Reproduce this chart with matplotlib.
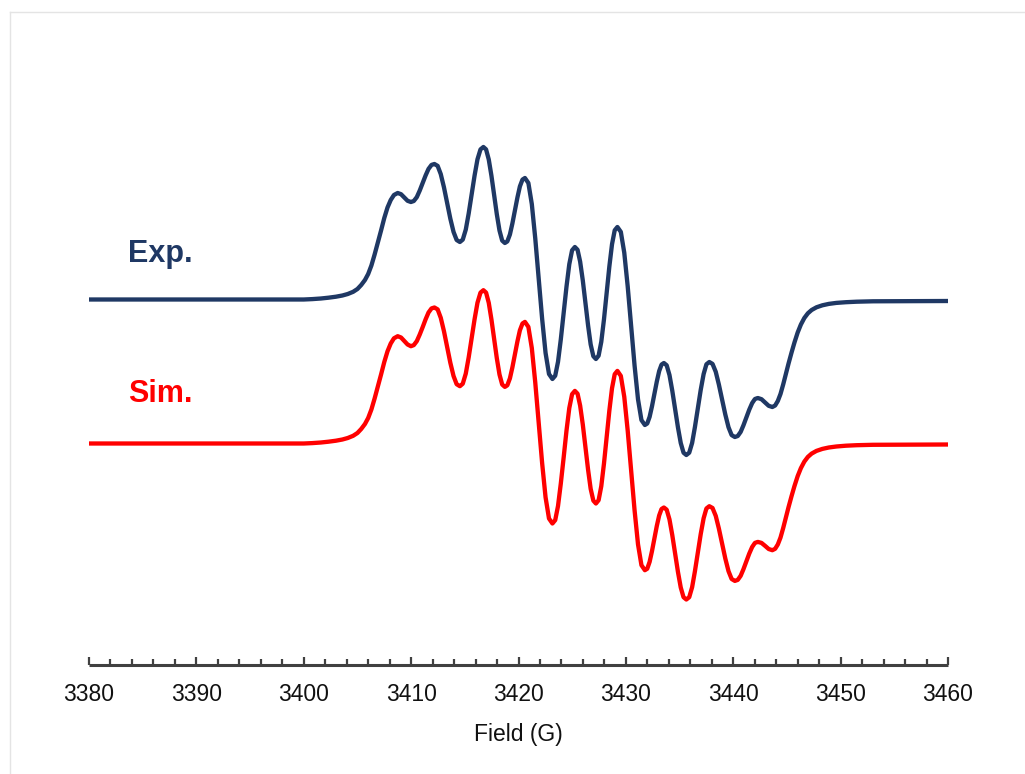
import matplotlib
matplotlib.use("Agg")
import matplotlib.pyplot as plt
from matplotlib.ticker import MultipleLocator
from matplotlib.lines import Line2D

plt.rcParams['font.family'] = ['Liberation Sans', 'DejaVu Sans']

# magnetic field (G)
field = [
    3380.0, 3390.0, 3400.0, 3400.8, 3401.6, 3402.3, 3403.0, 3403.6, 3404.1, 3404.6,
    3405.0, 3405.35, 3405.7, 3406.0, 3406.3, 3406.6, 3406.9, 3407.2, 3407.5, 3407.8,
    3408.1, 3408.4, 3408.75,
    3409.06, 3409.37, 3409.67, 3409.98,
    3410.25, 3410.53, 3410.80, 3411.08, 3411.35, 3411.62, 3411.90, 3412.17,
    3412.47, 3412.76, 3413.06, 3413.36, 3413.65, 3413.95, 3414.24, 3414.54,
    3414.81, 3415.09, 3415.36, 3415.64, 3415.91, 3416.18, 3416.46, 3416.73,
    3416.98, 3417.23, 3417.48, 3417.73, 3417.98, 3418.23, 3418.48, 3418.73,
    3418.96, 3419.20, 3419.43, 3419.67, 3419.90, 3420.13, 3420.37, 3420.60,
    3420.92, 3421.24, 3421.56, 3421.88, 3422.20, 3422.52, 3422.84, 3423.16,
    3423.42, 3423.68, 3423.94, 3424.21, 3424.47, 3424.73, 3424.99, 3425.25,
    3425.50, 3425.74, 3425.99, 3426.23, 3426.48, 3426.72, 3426.97, 3427.21,
    3427.46, 3427.71, 3427.96, 3428.21, 3428.46, 3428.71, 3428.96, 3429.21,
    3429.53, 3429.85, 3430.17, 3430.49, 3430.81, 3431.13, 3431.45, 3431.77,
    3431.99, 3432.21, 3432.43, 3432.66, 3432.88, 3433.10, 3433.32, 3433.54,
    3433.80, 3434.06, 3434.32, 3434.59, 3434.85, 3435.11, 3435.37, 3435.63,
    3435.90, 3436.17, 3436.43, 3436.70, 3436.97, 3437.24, 3437.50, 3437.77,
    3438.07, 3438.37, 3438.66, 3438.96, 3439.26, 3439.56, 3439.85, 3440.15,
    3440.42, 3440.69, 3440.95, 3441.22, 3441.49, 3441.76, 3442.02, 3442.29,
    3442.63, 3442.97, 3443.30, 3443.64,
    3443.90, 3444.15, 3444.40, 3444.65, 3444.90, 3445.15, 3445.43, 3445.70,
    3446.00, 3446.30, 3446.62, 3446.95, 3447.30, 3447.75, 3448.30, 3448.90,
    3449.60, 3450.50, 3451.50, 3453.00, 3460.00,
]

# first-derivative EPR signal, experimental (a.u.)
exp_signal = [
    0.000, 0.000, 0.000, 0.004, 0.010, 0.018, 0.028, 0.040, 0.055, 0.077,
    0.105, 0.145, 0.195, 0.255, 0.340, 0.450, 0.570, 0.690, 0.815, 0.920,
    0.995, 1.045, 1.065,
    1.053, 1.020, 0.987, 0.975,
    0.985, 1.024, 1.089, 1.165, 1.241, 1.306, 1.346, 1.355,
    1.336, 1.254, 1.121, 0.965, 0.809, 0.676, 0.595, 0.575,
    0.599, 0.699, 0.860, 1.050, 1.240, 1.402, 1.501, 1.525,
    1.501, 1.400, 1.237, 1.045, 0.853, 0.690, 0.589, 0.565,
    0.581, 0.650, 0.760, 0.890, 1.020, 1.131, 1.199, 1.215,
    1.165, 0.954, 0.612, 0.210, -0.192, -0.534, -0.745, -0.795,
    -0.762, -0.623, -0.399, -0.135, 0.129, 0.353, 0.492, 0.525,
    0.497, 0.379, 0.189, -0.035, -0.259, -0.449, -0.567, -0.595,
    -0.562, -0.423, -0.199, 0.065, 0.329, 0.553, 0.692, 0.725,
    0.676, 0.468, 0.131, -0.265, -0.661, -0.998, -1.206, -1.255,
    -1.240, -1.174, -1.069, -0.945, -0.821, -0.716, -0.651, -0.635,
    -0.658, -0.755, -0.911, -1.095, -1.279, -1.435, -1.532, -1.555,
    -1.532, -1.434, -1.276, -1.090, -0.904, -0.746, -0.648, -0.625,
    -0.644, -0.723, -0.850, -1.000, -1.150, -1.278, -1.356, -1.375,
    -1.365, -1.324, -1.258, -1.180, -1.102, -1.036, -0.995, -0.985,
    -0.997, -1.030, -1.063, -1.075,
    -1.060, -1.015, -0.945, -0.850, -0.745, -0.640, -0.530, -0.430,
    -0.330, -0.250, -0.185, -0.138, -0.105, -0.078, -0.058, -0.044,
    -0.034, -0.027, -0.022, -0.018, -0.015,
]

# simulated spectrum (a.u.)
sim_signal = [
    0.000, 0.000, 0.000, 0.004, 0.010, 0.018, 0.028, 0.040, 0.055, 0.077,
    0.105, 0.145, 0.195, 0.255, 0.340, 0.450, 0.570, 0.690, 0.815, 0.922,
    1.000, 1.052, 1.073,
    1.060, 1.025, 0.990, 0.973,
    0.984, 1.024, 1.089, 1.165, 1.242, 1.310, 1.351, 1.360,
    1.341, 1.257, 1.122, 0.965, 0.808, 0.675, 0.593, 0.573,
    0.598, 0.699, 0.861, 1.052, 1.243, 1.408, 1.509, 1.533,
    1.509, 1.407, 1.240, 1.046, 0.853, 0.690, 0.590, 0.566,
    0.582, 0.651, 0.761, 0.891, 1.021, 1.132, 1.200, 1.216,
    1.166, 0.954, 0.611, 0.208, -0.195, -0.538, -0.750, -0.800,
    -0.766, -0.625, -0.400, -0.136, 0.129, 0.354, 0.493, 0.526,
    0.498, 0.379, 0.188, -0.037, -0.262, -0.453, -0.571, -0.600,
    -0.567, -0.427, -0.201, 0.063, 0.328, 0.553, 0.693, 0.726,
    0.676, 0.467, 0.128, -0.270, -0.668, -1.008, -1.217, -1.267,
    -1.252, -1.184, -1.077, -0.951, -0.825, -0.720, -0.655, -0.640,
    -0.662, -0.759, -0.915, -1.100, -1.284, -1.440, -1.537, -1.560,
    -1.537, -1.437, -1.278, -1.092, -0.906, -0.748, -0.650, -0.627,
    -0.645, -0.724, -0.850, -1.000, -1.150, -1.277, -1.355, -1.374,
    -1.364, -1.323, -1.257, -1.179, -1.101, -1.035, -0.994, -0.984,
    -0.994, -1.024, -1.055, -1.067,
    -1.053, -1.010, -0.941, -0.846, -0.741, -0.636, -0.526, -0.426,
    -0.326, -0.246, -0.181, -0.134, -0.101, -0.074, -0.054, -0.040,
    -0.030, -0.022, -0.017, -0.013, -0.010,
]

assert len(field) == len(exp_signal) == len(sim_signal)

exp_color = '#1F3864'
sim_color = '#FF0000'
sim_offset = -1.44

fig = plt.figure(figsize=(10.25, 7.74), dpi=100)

# faint frame lines along the top and left edge
fig.add_artist(Line2D([10 / 1025, 1.0], [1 - 12 / 774, 1 - 12 / 774], transform=fig.transFigure,
                      color='#e4e4e4', lw=1))
fig.add_artist(Line2D([10 / 1025, 10 / 1025], [0.0, 1 - 12 / 774], transform=fig.transFigure,
                      color='#e4e4e4', lw=1))

ax = fig.add_axes([89 / 1025, 109 / 774, 859 / 1025, 565 / 774])

ax.plot(field, exp_signal, color=exp_color, lw=3.1, solid_joinstyle='round',
        solid_capstyle='round')
ax.plot(field, [v + sim_offset for v in sim_signal], color=sim_color, lw=3.1,
        solid_joinstyle='round', solid_capstyle='round')

ax.text(3383.6, 0.378, 'Exp.', color=exp_color, fontsize=22, fontweight='bold',
        ha='left', va='baseline')
ax.text(3383.6, -1.022, 'Sim.', color=sim_color, fontsize=22, fontweight='bold',
        ha='left', va='baseline')

ax.set_xlim(3380, 3460)
ax.set_ylim(-3.655, 1.995)

for side in ['left', 'right', 'top']:
    ax.spines[side].set_visible(False)
ax.spines['bottom'].set_linewidth(2.2)
ax.spines['bottom'].set_color('#404040')
ax.spines['bottom'].set_capstyle('butt')

ax.set_yticks([])
ax.xaxis.set_major_locator(MultipleLocator(10))
ax.xaxis.set_minor_locator(MultipleLocator(2))
ax.tick_params(axis='x', which='major', direction='in', length=5.5, width=1.6,
               color='#404040', labelsize=16.5, pad=13, labelcolor='#111111')
ax.tick_params(axis='x', which='minor', direction='in', length=4.2, width=1.6,
               color='#404040')

ax.set_xlabel('Field (G)', fontsize=16.5, color='#111111', labelpad=12)

fig.savefig('out.png', dpi=100)
